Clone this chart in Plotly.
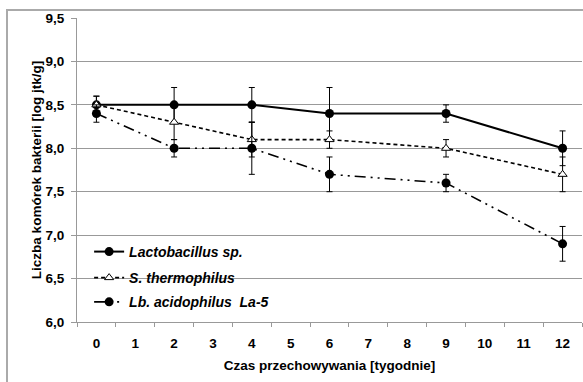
import plotly.graph_objects as go

weeks = [0, 2, 4, 6, 9, 12]
week_ticks = list(range(13))

lacto = [8.5, 8.5, 8.5, 8.4, 8.4, 8.0]
lacto_err = [0.1, 0.2, 0.2, 0.3, 0.1, 0.2]

thermo = [8.5, 8.3, 8.1, 8.1, 8.0, 7.7]
thermo_err = [0.1, 0.2, 0.2, 0.1, 0.1, 0.2]

acido = [8.4, 8.0, 8.0, 7.7, 7.6, 6.9]
acido_err = [0.1, 0.1, 0.3, 0.2, 0.1, 0.2]

names = ["<i>Lactobacillus sp.</i>", "<i>S. thermophilus</i>", "<i>Lb. acidophilus\u00a0 La-5</i>"]

font = "Liberation Sans, Arial, sans-serif"

fig = go.Figure()
fig.add_trace(go.Scatter(
    x=weeks, y=lacto, name=names[0], mode="lines+markers", legend="legend",
    line=dict(color="black", width=2),
    marker=dict(symbol="circle", size=9, color="black"),
    error_y=dict(type="data", array=lacto_err, color="black", thickness=1, width=3),
))
fig.add_trace(go.Scatter(
    x=weeks, y=thermo, name=names[1], mode="lines+markers", legend="legend2",
    line=dict(color="black", width=1.6, dash="4px,3px"),
    marker=dict(symbol="triangle-up", size=8, color="white", line=dict(color="black", width=1)),
    error_y=dict(type="data", array=thermo_err, color="black", thickness=1, width=3),
))
fig.add_trace(go.Scatter(
    x=weeks, y=acido, name=names[2], mode="lines+markers", legend="legend3",
    line=dict(color="black", width=1.6, dash="11px,5px,2px,5px,2px,5px"),
    marker=dict(symbol="circle", size=9, color="black"),
    error_y=dict(type="data", array=acido_err, color="black", thickness=1, width=3),
))

leg_common = dict(
    xanchor="left", yanchor="middle", bgcolor="rgba(0,0,0,0)",
    font=dict(family=font, size=14, color="black", weight="bold"),
    itemwidth=30,
)

fig.update_layout(
    width=583, height=382,
    margin=dict(l=77, r=1, t=18, b=60),
    paper_bgcolor="white", plot_bgcolor="white",
    separators=", ",
    font=dict(family=font, size=13.5, color="black", weight="bold"),
    showlegend=True,
    legend=dict(x=0.024, y=0.2303, **leg_common),
    legend2=dict(x=0.024, y=0.1447, **leg_common),
    legend3=dict(x=0.024, y=0.065, **leg_common),
    xaxis=dict(
        range=[-0.5, 12.5], tickvals=week_ticks, ticktext=[str(w) for w in week_ticks],
        ticks="", showgrid=False, showline=True, linecolor="#999999", linewidth=1,
        zeroline=False, ticklabelstandoff=9,
        minor=dict(tick0=0.5, dtick=1, ticks="outside", ticklen=4, tickcolor="#999999", showgrid=False),
        title=dict(text="Czas przechowywania [tygodnie]", font=dict(size=13.5, weight="bold"), standoff=10),
        tickfont=dict(size=13.5, weight="bold"),
    ),
    yaxis=dict(
        range=[6.0, 9.5], dtick=0.5, tick0=6.0, tickformat=".1f",
        ticks="outside", ticklen=5, tickcolor="#999999", ticklabelstandoff=4,
        showgrid=True, gridcolor="#999999", gridwidth=1,
        showline=True, linecolor="#999999", linewidth=1, zeroline=False,
        title=dict(text="Liczba komórek bakterii [log jtk/g]", font=dict(size=13.5, weight="bold"), standoff=0),
        tickfont=dict(size=13.5, weight="bold"),
    ),
    shapes=[dict(
        type="rect", xref="paper", yref="paper",
        x0=-0.1386, x1=1.02, y0=-0.25, y1=1.026,
        line=dict(color="#aaaaaa", width=2), fillcolor="rgba(0,0,0,0)", layer="below",
    )],
)

fig.write_html("out.html", config={"displayModeBar": False},
               post_script="document.body.style.margin='0';")
